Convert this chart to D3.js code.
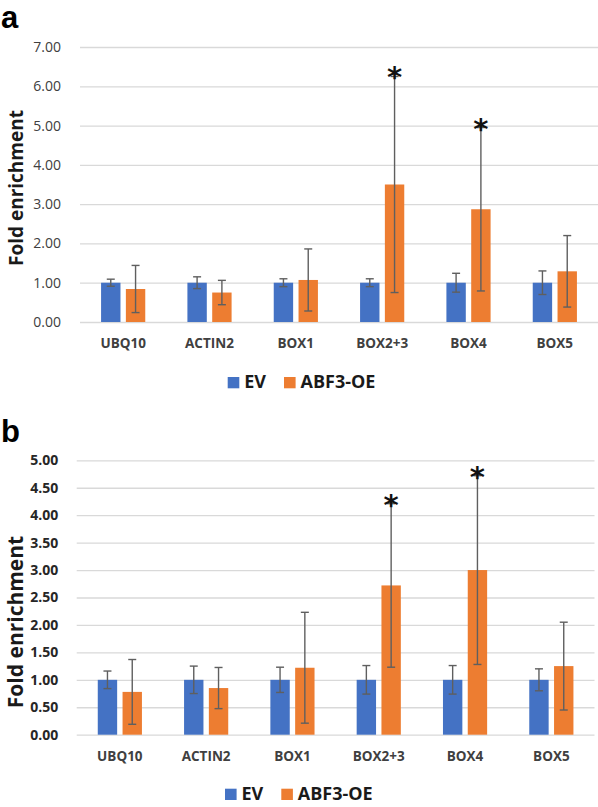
<!DOCTYPE html>
<html>
<head>
<meta charset="utf-8">
<script src="https://cdn.jsdelivr.net/npm/d3@7"></script>
<style>
  html, body { margin: 0; padding: 0; background: #fff; }
  svg { display: block; }
  text { font-family: "Open Sans", sans-serif; }
</style>
</head>
<body>
<svg id="chart" width="598" height="807"></svg>
<script>
// ---- data ----
const categories = ["UBQ10", "ACTIN2", "BOX1", "BOX2+3", "BOX4", "BOX5"];
const seriesNames = ["EV", "ABF3-OE"];

// panel a
const aEV      = [1.00, 1.00, 1.00, 1.00, 1.00, 1.00];
const aEVErr   = [0.09, 0.15, 0.10, 0.10, 0.24, 0.30];
const aOE      = [0.84, 0.75, 1.07, 3.50, 2.87, 1.29];
const aOEErr   = [0.60, 0.31, 0.79, 2.75, 2.08, 0.91];
const aSig     = [false, false, false, true, true, false];
const aTicks   = [0, 1, 2, 3, 4, 5, 6, 7];

// panel b
const bEV      = [1.00, 1.00, 1.00, 1.00, 1.00, 1.00];
const bEVErr   = [0.16, 0.25, 0.23, 0.26, 0.26, 0.20];
const bOE      = [0.78, 0.85, 1.22, 2.72, 3.00, 1.25];
const bOEErr   = [0.59, 0.375, 1.01, 1.49, 1.72, 0.80];
const bSig     = [false, false, false, true, true, false];
const bTicks   = [0, 0.5, 1, 1.5, 2, 2.5, 3, 3.5, 4, 4.5, 5];

const colors = ["#4472C4", "#ED7D31"];

const svg = d3.select("#chart");

function panel(cfg) {
  const g = svg.append("g");
  const y = d3.scaleLinear().domain([0, cfg.ymax]).range([cfg.y0, cfg.ytop]);
  const x0 = d3.scaleBand().domain(categories).range([cfg.xl, cfg.xr]).padding(0);
  const x1 = d3.scaleBand().domain(seriesNames).range([0, x0.bandwidth()])
    .paddingInner(0.218).paddingOuter(0.85);

  // gridlines + tick labels
  const axis = d3.axisLeft(y).tickValues(cfg.ticks).tickFormat(d3.format(".2f"))
    .tickSize(-(cfg.xr - cfg.xl)).tickPadding(cfg.tickPad);
  const ag = g.append("g").attr("transform", `translate(${cfg.xl},0)`).call(axis);
  ag.select(".domain").remove();
  ag.selectAll(".tick line").attr("stroke", "#d9d9d9").attr("stroke-width", 1.3);
  ag.selectAll(".tick text")
    .attr("fill", cfg.tickColor)
    .style("font-size", "14px")
    .style("font-weight", cfg.tickBold ? "700" : "400");

  // bars
  const data = categories.map((c, i) => ({
    cat: c,
    vals: [
      { s: seriesNames[0], v: cfg.ev[i], e: cfg.evErr[i], sig: false },
      { s: seriesNames[1], v: cfg.oe[i], e: cfg.oeErr[i], sig: cfg.sig[i] }
    ]
  }));
  const cg = g.selectAll("g.cat").data(data).enter().append("g")
    .attr("class", "cat")
    .attr("transform", d => `translate(${x0(d.cat)},0)`);
  cg.selectAll("rect").data(d => d.vals).enter().append("rect")
    .attr("x", d => x1(d.s))
    .attr("width", x1.bandwidth())
    .attr("y", d => y(d.v))
    .attr("height", d => y(0) - y(d.v))
    .attr("fill", (d, i) => colors[i]);

  // error bars
  const eb = cg.selectAll("g.err").data(d => d.vals).enter().append("g").attr("class", "err");
  const cx = d => x1(d.s) + x1.bandwidth() / 2;
  eb.append("line")
    .attr("x1", cx).attr("x2", cx)
    .attr("y1", d => y(d.v + d.e)).attr("y2", d => y(d.v - d.e))
    .attr("stroke", "#5f5f5f").attr("stroke-width", 1.4);
  eb.append("line")
    .attr("x1", d => cx(d) - 4).attr("x2", d => cx(d) + 4)
    .attr("y1", d => y(d.v + d.e)).attr("y2", d => y(d.v + d.e))
    .attr("stroke", "#5f5f5f").attr("stroke-width", 1.4);
  eb.append("line")
    .attr("x1", d => cx(d) - 4).attr("x2", d => cx(d) + 4)
    .attr("y1", d => y(d.v - d.e)).attr("y2", d => y(d.v - d.e))
    .attr("stroke", "#5f5f5f").attr("stroke-width", 1.4);
  // significance asterisks
  eb.filter(d => d.sig).append("text")
    .attr("x", cx)
    .attr("y", d => y(d.v + d.e) + 11)
    .attr("text-anchor", "middle")
    .style("font-family", "'DejaVu Sans', sans-serif")
    .style("font-weight", "700")
    .style("font-size", "29px")
    .attr("fill", "#111")
    .text("*");

  // category labels
  g.selectAll("text.cl").data(categories).enter().append("text")
    .attr("class", "cl")
    .attr("x", d => x0(d) + x0.bandwidth() / 2)
    .attr("y", cfg.xlabY)
    .attr("text-anchor", "middle")
    .style("font-size", "13.5px").style("font-weight", "700")
    .attr("fill", "#404040")
    .text(d => d);

  // y title
  g.append("text")
    .attr("transform", `translate(${cfg.titleX},${cfg.titleY}) rotate(-90)`)
    .attr("text-anchor", "middle")
    .style("font-size", cfg.titleSize + "px").style("font-weight", "700")
    .attr("fill", "#1a1a1a")
    .text("Fold enrichment");

  // legend
  const lg = g.append("g");
  const lx = [cfg.legX, cfg.legX + 56.3];
  seriesNames.forEach((s, i) => {
    lg.append("rect").attr("x", lx[i]).attr("y", cfg.legBase - 11.3)
      .attr("width", 11.6).attr("height", 11.3).attr("fill", colors[i]);
    lg.append("text").attr("x", lx[i] + 16.5).attr("y", cfg.legBase)
      .style("font-size", "18px").style("font-weight", "700")
      .attr("fill", "#1a1a1a").text(s);
  });

  // panel letter
  g.append("text").attr("x", cfg.letterX).attr("y", cfg.letterY)
    .style("font-family", "'Liberation Sans', Arial, sans-serif")
    .style("font-size", "31px").style("font-weight", "700")
    .attr("fill", "#000").text(cfg.letter);
}

panel({
  ev: aEV, evErr: aEVErr, oe: aOE, oeErr: aOEErr, sig: aSig, ticks: aTicks,
  ymax: 7, y0: 322, ytop: 47, xl: 80, xr: 598, tickPad: 19,
  tickColor: "#404040", tickBold: false,
  xlabY: 348, titleX: 23, titleY: 188, titleSize: 19,
  legX: 227.7, legBase: 388.3, letter: "a", letterX: 1, letterY: 28
});

panel({
  ev: bEV, evErr: bEVErr, oe: bOE, oeErr: bOEErr, sig: bSig, ticks: bTicks,
  ymax: 5, y0: 734.7, ytop: 460.3, xl: 76.7, xr: 594.5, tickPad: 18.5,
  tickColor: "#262626", tickBold: true,
  xlabY: 760.5, titleX: 23, titleY: 622, titleSize: 21,
  legX: 225, legBase: 800, letter: "b", letterX: 1, letterY: 442
});
</script>
</body>
</html>
